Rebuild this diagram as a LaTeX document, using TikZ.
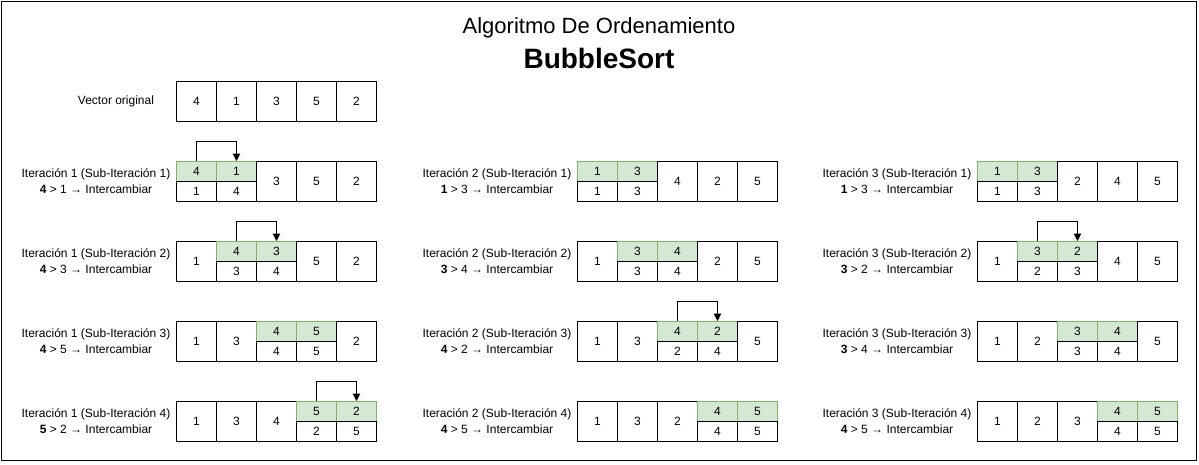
\documentclass[tikz,border=0pt]{standalone}
\usepackage{fontspec}
\setmainfont{Liberation Sans}
\usetikzlibrary{arrows.meta}
\definecolor{gfill}{HTML}{D5E8D4}
\definecolor{gline}{HTML}{82B366}
\tikzset{
  cell/.style={draw=black, line width=0.75pt, fill=white, minimum width=30pt, minimum height=30pt, inner sep=0pt, anchor=north west, font=\fontsize{9}{11}\selectfont},
  halfw/.style={cell, minimum height=15pt},
  halfg/.style={cell, minimum height=15pt, fill=gfill, draw=gline},
  lbl/.style={align=center, inner sep=0pt, font=\fontsize{9}{12}\selectfont},
  swaparrow/.style={draw=black, line width=0.75pt, -{Triangle[length=5.5pt,width=5.5pt]}},
}
% #1 name, #2 x, #3 y, #4 values, #5 swap index (9 = none), #6 bottom a, #7 bottom b, #8 arrow (1/0)
\newcommand\bsrow[8]{%
  \foreach \v [count=\i] in {#4} {
    \pgfmathtruncatemacro\xl{#2+40*(\i-1)}
    \ifnum\i=#5\relax
      \node[halfg] (#1-t\i) at (\xl,#3) {\v};
      \node[halfw] (#1-b\i) at (\xl,#3+20) {#6};
    \else\ifnum\i=\numexpr#5+1\relax
      \node[halfg] (#1-t\i) at (\xl,#3) {\v};
      \node[halfw] (#1-b\i) at (\xl,#3+20) {#7};
    \else
      \node[cell] (#1-c\i) at (\xl,#3) {\v};
    \fi\fi
  }
  \ifnum#8=1\relax
    \pgfmathtruncatemacro\nx{#5+1}
    \draw[swaparrow] (#1-t#5.north) -- ++(0,-20) -| (#1-t\nx.north);
  \fi
}
\begin{document}
\begin{tikzpicture}[x=0.75pt, y=-0.75pt]
\useasboundingbox (0,0) rectangle (1199,464);
\draw[line width=0.75pt] (1.5,1.5) rectangle (1196.5,460.5);
\node[inner sep=0pt, font=\fontsize{16.5}{18}\selectfont] (t1) at (599,28) {Algoritmo De Ordenamiento};
\node[inner sep=0pt, font=\fontsize{21}{24}\selectfont\bfseries] (t2) at (599,58) {BubbleSort};

\node[lbl] (lv) at (116,101) {Vector original};
\bsrow{v}{176}{81}{4,1,3,5,2}{9}{}{}{0}

% column 1
\node[lbl] (l11) at (96,181) {Iteración 1 (Sub-Iteración 1)\\\textbf{4} > 1 → Intercambiar};
\bsrow{a1}{176}{161}{4,1,3,5,2}{1}{1}{4}{1}
\node[lbl] (l12) at (96,261) {Iteración 1 (Sub-Iteración 2)\\\textbf{4} > 3 → Intercambiar};
\bsrow{a2}{176}{241}{1,4,3,5,2}{2}{3}{4}{1}
\node[lbl] (l13) at (96,341) {Iteración 1 (Sub-Iteración 3)\\\textbf{4} > 5 → Intercambiar};
\bsrow{a3}{176}{321}{1,3,4,5,2}{3}{4}{5}{0}
\node[lbl] (l14) at (96,421) {Iteración 1 (Sub-Iteración 4)\\\textbf{5} > 2 → Intercambiar};
\bsrow{a4}{176}{401}{1,3,4,5,2}{4}{2}{5}{1}

% column 2
\node[lbl] (l21) at (497,181) {Iteración 2 (Sub-Iteración 1)\\\textbf{1} > 3 → Intercambiar};
\bsrow{b1}{577}{161}{1,3,4,2,5}{1}{1}{3}{0}
\node[lbl] (l22) at (497,261) {Iteración 2 (Sub-Iteración 2)\\\textbf{3} > 4 → Intercambiar};
\bsrow{b2}{577}{241}{1,3,4,2,5}{2}{3}{4}{0}
\node[lbl] (l23) at (497,341) {Iteración 2 (Sub-Iteración 3)\\\textbf{4} > 2 → Intercambiar};
\bsrow{b3}{577}{321}{1,3,4,2,5}{3}{2}{4}{1}
\node[lbl] (l24) at (497,421) {Iteración 2 (Sub-Iteración 4)\\\textbf{4} > 5 → Intercambiar};
\bsrow{b4}{577}{401}{1,3,2,4,5}{4}{4}{5}{0}

% column 3
\node[lbl] (l31) at (897,181) {Iteración 3 (Sub-Iteración 1)\\\textbf{1} > 3 → Intercambiar};
\bsrow{c1}{977}{161}{1,3,2,4,5}{1}{1}{3}{0}
\node[lbl] (l32) at (897,261) {Iteración 3 (Sub-Iteración 2)\\\textbf{3} > 2 → Intercambiar};
\bsrow{c2}{977}{241}{1,3,2,4,5}{2}{2}{3}{1}
\node[lbl] (l33) at (897,341) {Iteración 3 (Sub-Iteración 3)\\\textbf{3} > 4 → Intercambiar};
\bsrow{c3}{977}{321}{1,2,3,4,5}{3}{3}{4}{0}
\node[lbl] (l34) at (897,421) {Iteración 3 (Sub-Iteración 4)\\\textbf{4} > 5 → Intercambiar};
\bsrow{c4}{977}{401}{1,2,3,4,5}{4}{4}{5}{0}
\end{tikzpicture}
\end{document}
